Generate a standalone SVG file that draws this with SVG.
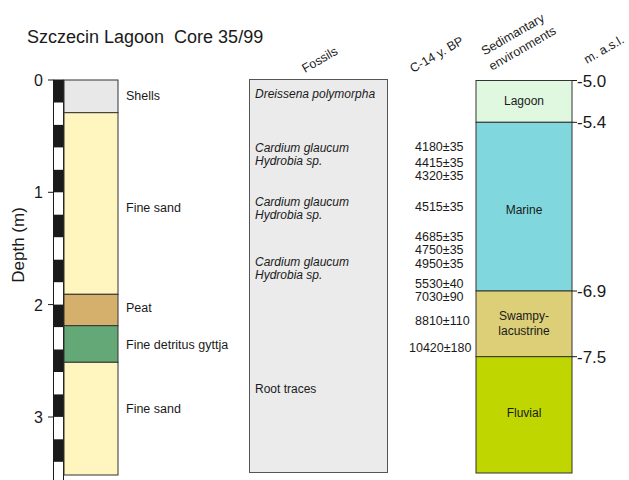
<svg xmlns="http://www.w3.org/2000/svg" width="629" height="480" viewBox="0 0 629 480">
<style>
text{font-family:"Liberation Sans",Arial,sans-serif;fill:#1a1a1a}
.lay{stroke:#333;stroke-width:1}
.lbl{font-size:12.5px}
.fos{font-size:12px;font-style:italic}
.c14{font-size:12.5px}
.hdr{font-size:12.5px}
.ax{font-size:16px}
.masl{font-size:17px}
.env{font-size:12px;text-anchor:middle}
.tk{stroke:#1a1a1a;stroke-width:1}
</style>
<rect width="629" height="480" fill="#fff"/>
<text x="27" y="43" style="font-size:18px" xml:space="preserve">Szczecin Lagoon  Core 35/99</text>

<g id="depth-axis">
<rect x="53.5" y="80" width="10" height="405" fill="#fff" stroke="#1a1a1a" stroke-width="1"/>
<g fill="#1a1a1a">
<rect x="53.5" y="80" width="10" height="22.5"/>
<rect x="53.5" y="124.9" width="10" height="22.5"/>
<rect x="53.5" y="169.8" width="10" height="22.5"/>
<rect x="53.5" y="214.7" width="10" height="22.5"/>
<rect x="53.5" y="259.7" width="10" height="22.5"/>
<rect x="53.5" y="304.6" width="10" height="22.5"/>
<rect x="53.5" y="349.5" width="10" height="22.5"/>
<rect x="53.5" y="394.4" width="10" height="22.5"/>
<rect x="53.5" y="439.3" width="10" height="22.5"/>
</g>
<line class="tk" x1="48" y1="80" x2="53.5" y2="80"/>
<line class="tk" x1="48" y1="192.3" x2="53.5" y2="192.3"/>
<line class="tk" x1="48" y1="304.6" x2="53.5" y2="304.6"/>
<line class="tk" x1="48" y1="417" x2="53.5" y2="417"/>
<text class="ax" x="43" y="86" text-anchor="end">0</text>
<text class="ax" x="43" y="198" text-anchor="end">1</text>
<text class="ax" x="43" y="311" text-anchor="end">2</text>
<text class="ax" x="43" y="423" text-anchor="end">3</text>
<text transform="translate(24,245) rotate(-90)" text-anchor="middle" style="font-size:17px">Depth (m)</text>
</g>

<g id="lithology">
<rect class="lay" x="64" y="80" width="54" height="32.7" fill="#e8e8e8"/>
<rect class="lay" x="64" y="112.7" width="54" height="181.6" fill="#fff5bf"/>
<rect class="lay" x="64" y="294.3" width="54" height="31.4" fill="#d4b06c"/>
<rect class="lay" x="64" y="325.7" width="54" height="36.6" fill="#64a878"/>
<rect class="lay" x="64" y="362.3" width="54" height="112.7" fill="#fff5bf"/>
<text class="lbl" x="126" y="100">Shells</text>
<text class="lbl" x="126" y="212">Fine sand</text>
<text class="lbl" x="126" y="312">Peat</text>
<text class="lbl" x="126" y="349">Fine detritus gyttja</text>
<text class="lbl" x="126" y="413">Fine sand</text>
</g>

<g id="fossils">
<text class="hdr" transform="translate(305,73) rotate(-30)">Fossils</text>
<rect x="249.5" y="79.5" width="138" height="393" fill="#ebebeb" stroke="#555" stroke-width="1"/>
<text class="fos" x="255" y="98">Dreissena polymorpha</text>
<text class="fos" x="255" y="152">Cardium glaucum</text>
<text class="fos" x="255" y="165">Hydrobia sp.</text>
<text class="fos" x="255" y="206">Cardium glaucum</text>
<text class="fos" x="255" y="219">Hydrobia sp.</text>
<text class="fos" x="255" y="266">Cardium glaucum</text>
<text class="fos" x="255" y="279">Hydrobia sp.</text>
<text class="lbl" x="255" y="393" style="font-size:12px">Root traces</text>
</g>

<g id="c14">
<text class="hdr" transform="translate(413,73) rotate(-30)">C-14 y. BP</text>
<text class="c14" x="415" y="151">4180±35</text>
<text class="c14" x="415" y="167">4415±35</text>
<text class="c14" x="415" y="180">4320±35</text>
<text class="c14" x="415" y="211">4515±35</text>
<text class="c14" x="415" y="241">4685±35</text>
<text class="c14" x="415" y="254">4750±35</text>
<text class="c14" x="415" y="268">4950±35</text>
<text class="c14" x="415" y="288">5530±40</text>
<text class="c14" x="415" y="301">7030±90</text>
<text class="c14" x="415" y="325">8810±110</text>
<text class="c14" x="409" y="352">10420±180</text>
</g>

<g id="environments">
<text class="hdr" transform="translate(515,38) rotate(-30)" text-anchor="middle">Sedimantary</text>
<text class="hdr" transform="translate(524.5,52) rotate(-30)" text-anchor="middle">environments</text>
<rect class="lay" x="476" y="80.5" width="96" height="41.8" fill="#e0f8e0"/>
<rect class="lay" x="476" y="122.3" width="96" height="168.7" fill="#80d8de"/>
<rect class="lay" x="476" y="291" width="96" height="65.7" fill="#dccf78"/>
<rect class="lay" x="476" y="356.7" width="96" height="116.3" fill="#bfd600"/>
<text class="env" x="524" y="105">Lagoon</text>
<text class="env" x="524" y="214">Marine</text>
<text class="env" x="524" y="320">Swampy-</text>
<text class="env" x="524" y="335">lacustrine</text>
<text class="env" x="524" y="417">Fluvial</text>
</g>

<g id="masl">
<text class="hdr" transform="translate(587,64) rotate(-30)">m. a.s.l.</text>
<line class="tk" x1="572" y1="80.5" x2="577" y2="80.5"/>
<line class="tk" x1="572" y1="122.3" x2="577" y2="122.3"/>
<line class="tk" x1="572" y1="291" x2="577" y2="291"/>
<line class="tk" x1="572" y1="356.7" x2="577" y2="356.7"/>
<text class="masl" x="577" y="87">-5.0</text>
<text class="masl" x="577" y="128">-5.4</text>
<text class="masl" x="577" y="297">-6.9</text>
<text class="masl" x="577" y="363">-7.5</text>
</g>
</svg>
